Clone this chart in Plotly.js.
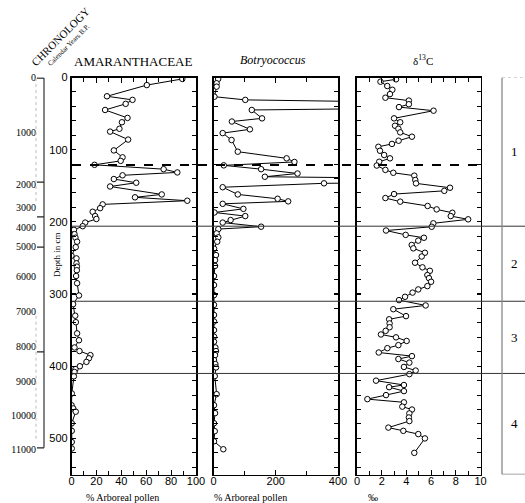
<!DOCTYPE html>
<html>
<head>
<meta charset="utf-8">
<script src="https://cdn.plot.ly/plotly-3.0.1.min.js"></script>
<style>html,body{margin:0;padding:0;background:#fff;}#chart{width:525px;height:503px;}</style>
</head>
<body>
<div id="chart"></div>
<script>
// ---------- DATA ----------
const depthTicks = [0, 100, 200, 300, 400, 500];

const amaDepth = [2, 10.5, 26, 31, 36.5, 45, 56, 62, 71, 75, 86, 101, 110.6, 115.5, 121, 127, 131.5, 135.5, 140.7, 145.8, 151, 162, 166, 170.7, 175.8, 181, 186, 192, 196, 201, 206, 211, 217, 222, 227.5, 235, 247, 250.6, 257.5, 262, 267, 275, 285, 302, 314, 330, 339, 354.5, 364, 374, 379, 384.6, 389, 394, 400, 404, 408, 414, 437.7, 454, 458.5, 463, 479, 489.5, 505, 514];
const amaValue = [89, 60.5, 28.5, 49, 43.5, 27, 45, 40.5, 38.5, 31, 45.5, 34, 41, 39.5, 18.5, 74, 85, 41, 34, 52, 31, 72.5, 51, 93, 25, 23, 17, 19, 20, 11, 9, 2, 2.4, 3.2, 4.5, 3.4, 0, 4, 4, 4.3, 4.3, 3.7, 4.5, 6, 1.3, 3, 3.5, 4.5, 6, 2.4, 6.4, 15.2, 14, 12, 6.7, 3.2, 2.4, 1.9, 0.2, 0, 1.4, 3.4, 0.2, 0.2, 0.2, 0.2];

const botDepth = [2, 8, 12.7, 26.6, 31, 39, 45, 56.6, 61, 71.8, 77, 86.6, 102.8, 112, 117, 121.7, 127, 133, 137.5, 143, 146.6, 152, 162, 168, 171.6, 175, 182, 187, 192, 197.5, 201, 206.7, 210, 216, 221.5, 227.5, 237, 246, 253, 261, 275, 287.6, 301.5, 315, 329, 338, 350, 359, 366, 374, 379, 384.6, 391.5, 397, 401.7, 413.7, 438.7, 454, 465, 479, 490, 504, 515];
const botValue = [15, 10, 10, 3, 102, 1400, 123, 156, 59, 117, 29.5, 58, 78, 235, 260, 33, 153, 270, 165, 1400, 355, 29.5, 78, 206, 240, 29.5, 96, 3, 102, 55, 29.5, 153, 15.5, 10, 15.5, 12, 1.6, 8, 5, 5, 1.6, 1.6, 1.6, 1.6, 1.6, 1.6, 1.6, 1.6, 1.6, 6, 8, 5, 1.6, 6, 8, 4, 10, 1.6, 5, 1.6, 4, 1.6, 31.5];

const d13Depth = [2.5, 5.8, 11.8, 17, 23, 28, 32, 37, 41, 46, 56.6, 62, 66.8, 71, 76, 82, 87.6, 92, 96, 101.5, 107.4, 112, 116.7, 122, 128, 132, 136, 142, 146.7, 152.7, 157, 161.5, 167, 172, 178, 182.7, 187.4, 192, 196.5, 202, 206.8, 212, 218, 222, 226, 232, 236.7, 242.8, 248, 256.6, 263, 267.8, 273.7, 278, 283, 289, 293.6, 298, 303.8, 308.4, 315.8, 321, 330.6, 335, 340.7, 346, 351, 356, 360, 365, 370.8, 375, 381, 386, 390, 395, 401, 406, 411, 420, 426, 429, 434.5, 440, 445.6, 450, 456, 460, 465.4, 471, 476, 485, 489.5, 494, 500, 520];
const d13Value = [3.16, 1.9, 2.45, 2.86, 2.67, 2.3, 4.2, 4.2, 3.4, 6.2, 3.0, 3.5, 3.08, 3.35, 3.5, 4.45, 3.37, 2.83, 1.73, 1.86, 2.2, 2.67, 1.8, 1.6, 2.3, 2.94, 4.64, 4.72, 4.78, 7.53, 7.07, 3.0, 2.3, 3.5, 5.72, 6.45, 7.72, 7.59, 9.0, 6.18, 6.05, 2.35, 3.94, 5.42, 4.96, 4.43, 4.56, 5.5, 5.24, 4.7, 5.3, 5.9, 5.7, 5.83, 6.0, 5.7, 4.96, 4.5, 3.89, 3.4, 5.56, 2.94, 3.97, 2.6, 2.64, 2.64, 2.32, 1.94, 3.16, 4.02, 3.35, 2.46, 1.76, 4.45, 3.35, 4.24, 3.8, 4.75, 4.24, 1.54, 3.8, 2.6, 3.8, 2.35, 0.84, 3.8, 3.67, 4.45, 4.24, 4.2, 4.24, 2.54, 3.75, 4.96, 5.5, 4.64];

// chronology (calendar years B.P.) placed at depth
const chronoYears = ['0', '1000', '2000', '3000', '4000', '5000', '6000', '7000', '8000', '9000', '10000', '11000'];
const chronoDepth = [0, 75.5, 147.6, 179.5, 207.3, 233.6, 275, 323.6, 372, 420.5, 467.8, 514.9];
const chronoMarks = [0.7, 145, 193, 235, 380, 513];

// zones
const zoneLabels = ['1', '2', '3', '4'];
const zoneBounds = [0, 206, 310, 410, 550];
const dashedBoundary = 121.3;

// ---------- LAYOUT HELPERS ----------
const W = 525, H = 503;
const X = p => p / W;
const Y = p => 1 - p / H;
const yRange = [550, 0];
const yDom = [Y(474.5), Y(77.5)];
const tickFont = {family: 'Liberation Sans, Arial, sans-serif', size: 11, color: '#000'};
const serif = 'Liberation Serif, Times New Roman, serif';

function xax(dom, range, dtick, minor) {
  return {domain: dom, range: range, dtick: dtick, tick0: 0, ticks: 'inside', ticklen: 5, tickwidth: 1.2,
    tickcolor: '#000', showline: true, linecolor: '#000', linewidth: 1.6, mirror: 'ticks',
    showgrid: false, zeroline: false, tickfont: tickFont, fixedrange: true, ticklabelstandoff: -4,
    minor: {dtick: minor, ticks: 'inside', ticklen: 4, tickcolor: '#000', tickwidth: 1, showgrid: false}};
}
function yax(anchor, labels) {
  return {domain: yDom, range: yRange, anchor: anchor, tickvals: depthTicks, ticks: 'inside', ticklen: 4,
    tickwidth: 1.2, tickcolor: '#000', showline: true, linecolor: '#000', linewidth: 1.6, mirror: 'ticks',
    showgrid: false, zeroline: false, showticklabels: labels, tickfont: tickFont, fixedrange: true,
    minor: {dtick: 20, ticks: 'inside', ticklen: 4, tickcolor: '#000', tickwidth: 1, showgrid: false}};
}

const mk = {symbol: 'circle', size: 5.5, color: '#fff', line: {color: '#000', width: 1}};
const ln = {color: '#000', width: 1};

const traces = [
  {x: amaValue, y: amaDepth, xaxis: 'x', yaxis: 'y', mode: 'lines+markers', marker: mk, line: ln, name: 'Amaranthaceae'},
  {x: botValue, y: botDepth, xaxis: 'x2', yaxis: 'y2', mode: 'lines+markers', marker: mk, line: ln, name: 'Botryococcus'},
  {x: d13Value, y: d13Depth, xaxis: 'x3', yaxis: 'y3', mode: 'lines+markers', marker: mk, line: ln, name: 'd13C'},
  // carrier for the chronology axis (no visible marks)
  {x: chronoDepth.map(() => null), y: chronoDepth, xaxis: 'x', yaxis: 'y4', mode: 'markers', marker: {opacity: 0}, hoverinfo: 'skip', name: 'chronology'}
];

const shapes = [];
shapes.push({type: 'line', xref: 'paper', yref: 'y', x0: X(72), x1: X(481), y0: dashedBoundary, y1: dashedBoundary,
  line: {color: '#000', width: 2, dash: 'dash'}});
zoneBounds.slice(1, 4).forEach(b => shapes.push({type: 'line', xref: 'paper', yref: 'y', x0: X(72), x1: 1, y0: b, y1: b,
  line: {color: '#333', width: 1}}));
shapes.push({type: 'line', xref: 'paper', yref: 'y', x0: X(502), x1: X(502), y0: zoneBounds[0], y1: zoneBounds[4], line: {color: '#888', width: 1.3}});
shapes.push({type: 'line', xref: 'paper', yref: 'y', x0: X(502), x1: 1, y0: zoneBounds[4], y1: zoneBounds[4], line: {color: '#888', width: 1.3}});
shapes.push({type: 'line', xref: 'paper', yref: 'y', x0: X(502), x1: 1, y0: zoneBounds[0], y1: zoneBounds[0], line: {color: '#aaa', width: 1, dash: 'dot'}});
shapes.push({type: 'line', xref: 'paper', yref: 'y', x0: X(44), x1: X(44), y0: chronoMarks[0], y1: chronoMarks[chronoMarks.length - 1], line: {color: '#666', width: 1.6}});
chronoMarks.forEach(m => shapes.push({type: 'line', xref: 'paper', yref: 'y', x0: X(37), x1: X(44), y0: m, y1: m, line: {color: '#222', width: 1.3}}));
shapes.push({type: 'line', xref: 'paper', yref: 'y', x0: X(36), x1: X(36), y0: chronoMarks[0], y1: chronoMarks[1] + 30, line: {color: '#bbb', width: 1, dash: 'dot'}});
shapes.push({type: 'line', xref: 'paper', yref: 'y', x0: X(36), x1: X(36), y0: chronoMarks[4] - 50, y1: chronoMarks[5] - 10, line: {color: '#bbb', width: 1, dash: 'dot'}});

function ann(text, px, py, font, extra) {
  return Object.assign({text: text, x: X(px), y: Y(py), xref: 'paper', yref: 'paper', xanchor: 'center', yanchor: 'middle',
    showarrow: false, font: font}, extra || {});
}
const annotations = [
  ann('AMARANTHACEAE', 133, 61, {family: serif, size: 13, color: '#000'}),
  ann('<i>Botryococcus</i>', 273, 60, {family: serif, size: 12, color: '#000'}),
  ann('δ<sup>13</sup>C', 423, 60, {family: serif, size: 11, color: '#000'}),
  ann('% Arboreal pollen', 122, 497, {family: serif, size: 10, color: '#000'}),
  ann('% Arboreal pollen', 250, 497, {family: serif, size: 10, color: '#000'}),
  ann('‰', 373, 497, {family: serif, size: 10, color: '#000'}),
  ann('Depth in cm', 57, 255, {family: serif, size: 9, color: '#000'}, {textangle: -90}),
  ann('CHRONOLOGY', 60, 37, {family: serif, size: 11, color: '#000'}, {textangle: -45}),
  ann('Calendar Years B.P.', 69, 45, {family: serif, size: 7, color: '#000'}, {textangle: -45})
];
zoneLabels.forEach((z, i) => annotations.push({text: z, x: X(514), y: (zoneBounds[i] + zoneBounds[i + 1]) / 2, xref: 'paper', yref: 'y',
  xanchor: 'center', yanchor: 'middle', showarrow: false, font: {family: serif, size: 13, color: '#000'}}));

const layout = {
  width: W, height: H, margin: {l: 0, r: 0, t: 0, b: 0}, paper_bgcolor: '#fff', plot_bgcolor: 'rgba(0,0,0,0)',
  showlegend: false,
  xaxis: xax([X(71.5), X(196)], [0, 100], 20, 10),
  xaxis2: xax([X(213.5), X(338)], [0, 400], 200, 100),
  xaxis3: xax([X(357), X(480.5)], [0, 10], 2, 1),
  yaxis: yax('x', true),
  yaxis2: yax('x2', false),
  yaxis3: yax('x3', false),
  yaxis4: {overlaying: 'y', anchor: 'free', position: X(44), side: 'left', range: yRange, tickvals: chronoDepth, ticktext: chronoYears,
    ticks: '', showline: false, showgrid: false, zeroline: false, ticklabelstandoff: 8,
    tickfont: {family: serif, size: 10, color: '#000'}, fixedrange: true},
  shapes: shapes,
  annotations: annotations
};

Plotly.newPlot('chart', traces, layout, {staticPlot: true, displayModeBar: false});
</script>
</body>
</html>
